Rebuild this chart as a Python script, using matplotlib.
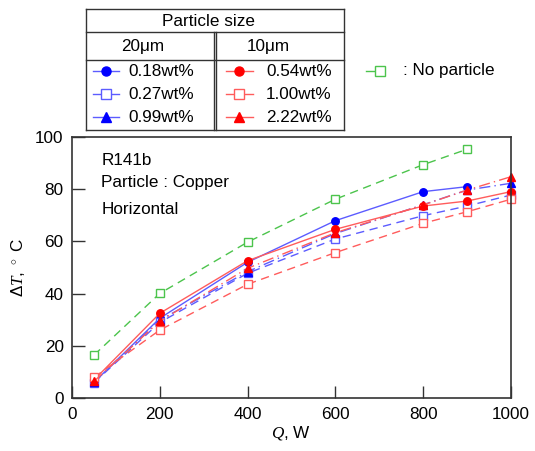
import matplotlib.pyplot as plt
from matplotlib.lines import Line2D

plt.rcParams['font.family'] = ['Liberation Sans', 'DejaVu Sans']
plt.rcParams['mathtext.fontset'] = 'custom'
plt.rcParams['mathtext.it'] = 'Liberation Serif:italic'
plt.rcParams['mathtext.rm'] = 'Liberation Sans'

# heat load, W
q_full = [50, 200, 400, 600, 800, 900, 1000]
q_none = [50, 200, 400, 600, 800, 900]

# wall superheat, deg C
no_particle = [16.5, 40.1, 59.7, 76.1, 89.3, 95.2]
cu20_018 = [6.1, 30.6, 52.0, 67.9, 79.0, 80.9]
cu20_027 = [6.0, 29.0, 47.8, 60.9, 69.8, 73.5, 77.7]
cu20_099 = [6.2, 29.9, 48.4, 63.0, 74.0, 79.6, 82.2]
cu10_054 = [7.0, 32.5, 52.6, 64.6, 73.5, 75.4, 79.0]
cu10_100 = [8.0, 26.1, 43.6, 55.7, 66.9, 71.3, 76.1]
cu10_222 = [6.5, 29.5, 49.7, 63.3, 73.9, 79.6, 84.7]

fs = 12.3
ms = 5.4
fig = plt.figure(figsize=(5.35, 4.51), dpi=100)
ax = fig.add_axes([0.1346, 0.1168, 0.8204, 0.5801])

blue_l = '#5c5cff'
red_l = '#ff5c5c'
green_l = '#4cc44c'

# style definitions: (line colour, linestyle, marker, face, edge)
styles = {
    '0.18wt%': (blue_l, '-', 'o', 'blue', 'blue'),
    '0.27wt%': (blue_l, (0, (6, 4)), 's', 'none', blue_l),
    '0.99wt%': (blue_l, (0, (8, 3, 1, 3)), '^', 'blue', 'blue'),
    '0.54wt%': (red_l, '-', 'o', 'red', 'red'),
    '1.00wt%': (red_l, (0, (6, 4)), 's', 'none', red_l),
    '2.22wt%': (red_l, (0, (8, 3, 1, 3)), '^', 'red', 'red'),
}
series = {
    '0.18wt%': cu20_018, '0.27wt%': cu20_027, '0.99wt%': cu20_099,
    '0.54wt%': cu10_054, '1.00wt%': cu10_100, '2.22wt%': cu10_222,
}

ax.plot(q_none, no_particle, color=green_l, ls=(0, (6, 4)), lw=1, marker='s',
        mfc='white', mec=green_l, ms=ms, mew=1, clip_on=False)
for name, vals in series.items():
    c, ls, m, fc, ec = styles[name]
    ax.plot(q_full[:len(vals)], vals, color=c, ls=ls, lw=1, marker=m,
            mfc=fc if fc != 'none' else 'white', mec=ec, ms=ms, mew=1, clip_on=False)

ax.set_xlim(0, 1000)
ax.set_ylim(0, 100)
ax.set_xticks([0, 200, 400, 600, 800, 1000])
ax.set_yticks([0, 20, 40, 60, 80, 100])
ax.tick_params(direction='in', length=9, width=1, labelsize=fs, color='#333333', pad=6)
for s in ax.spines.values():
    s.set_color('#333333')
    s.set_linewidth(1.2)
ax.set_xlabel(r'$Q$, W', fontsize=fs, labelpad=2)
ax.set_ylabel(r'$\mathit{\Delta T}$, $^\circ$ C', fontsize=fs, labelpad=6)

ax.text(0.067, 0.908, 'R141b', transform=ax.transAxes, fontsize=fs, va='center')
ax.text(0.067, 0.826, 'Particle : Copper', transform=ax.transAxes, fontsize=fs, va='center')
ax.text(0.067, 0.721, 'Horizontal', transform=ax.transAxes, fontsize=fs, va='center')

# legend table drawn in pixel coordinates of the figure
W, H = 535, 451
def fx(x):
    return x / W
def fy(y):
    return 1 - y / H

def hline(x0, x1, y, lw=1.0):
    fig.add_artist(Line2D([fx(x0), fx(x1)], [fy(y), fy(y)], color='#333333', lw=lw))
def vline(x, y0, y1, lw=1.0):
    fig.add_artist(Line2D([fx(x), fx(x)], [fy(y0), fy(y1)], color='#333333', lw=lw))

L, R, T, B = 86, 344, 9, 129.5
hline(L, R, T)
hline(L, R, B)
vline(L, T, B)
vline(R, T, B)
hline(L, R, 32)
hline(L, R, 60)
vline(214.3, 32, B)
vline(216.3, 32, B)

fig.text(fx(208), fy(21.5), 'Particle size', ha='center', va='center', fontsize=fs)
fig.text(fx(143), fy(46), '20\u03bcm', ha='center', va='center', fontsize=fs)
fig.text(fx(268), fy(46), '10\u03bcm', ha='center', va='center', fontsize=fs)

rows_y = [71, 94.3, 117.3]
left_names = ['0.18wt%', '0.27wt%', '0.99wt%']
right_names = ['0.54wt%', '1.00wt%', '2.22wt%']

def sample(x0, x1, xm, y, name):
    c, ls, m, fc, ec = styles[name]
    fig.add_artist(Line2D([fx(x0), fx(x1)], [fy(y), fy(y)], color=c, lw=1))
    fig.add_artist(Line2D([fx(xm)], [fy(y)], marker=m, ms=6.5,
                          mfc=fc if fc != 'none' else 'white', mec=ec, mew=1, ls='none'))

for y, n in zip(rows_y, left_names):
    sample(93, 119, 106, y, n)
    fig.text(fx(128), fy(y), n, va='center', fontsize=fs)
for y, n in zip(rows_y, right_names):
    sample(226, 253, 239, y, n)
    fig.text(fx(266), fy(y), n, va='center', fontsize=fs)

fig.add_artist(Line2D([fx(366), fx(376)], [fy(71), fy(71)], color=green_l, lw=1))
fig.add_artist(Line2D([fx(380)], [fy(71)], marker='s', ms=6.5, mfc='white',
                      mec=green_l, mew=1, ls='none'))
fig.text(fx(403), fy(71), ': No particle', va='center', fontsize=fs)

fig.savefig('out.png', dpi=100)
